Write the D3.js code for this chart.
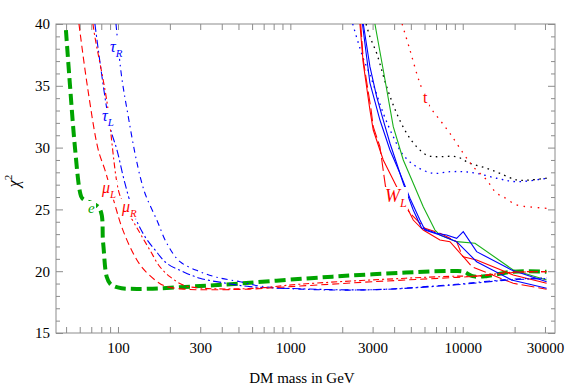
<!DOCTYPE html>
<html>
<head>
<meta charset="utf-8">
<script src="https://cdn.jsdelivr.net/npm/d3@7"></script>
<style>
  body { margin: 0; background: #fff; }
  svg { display: block; font-family: "Liberation Serif", "DejaVu Serif", serif; }
</style>
</head>
<body>
<svg id="chart" width="567" height="388"></svg>
<script>
// axis ticks
const xMajor = [100, 300, 1000, 3000, 10000, 30000];
const xMinor = [50, 60, 70, 80, 90, 200, 400, 500, 600, 700, 800, 900,
  2000, 4000, 5000, 6000, 7000, 8000, 9000, 20000];
const yMajor = [15, 20, 25, 30, 35, 40];
const yMinor = [16, 17, 18, 19, 21, 22, 23, 24, 26, 27, 28, 29, 31, 32, 33, 34, 36, 37, 38, 39];

// light channels: [DM mass (GeV), chi^2]
const eCurve = [[49.9, 39.5], [52.7, 35], [56.3, 30], [60.2, 26.4], [62, 25.9], [77.9, 25.1],
  [82, 22.3], [86, 19.55], [90, 19.0], [96, 18.75], [105, 18.62], [114, 18.58], [150, 18.58],
  [300, 18.8], [450, 18.95], [1200, 19.4], [3000, 19.75], [9200, 20.02], [10200, 19.95],
  [11400, 19.6], [13700, 19.6], [19500, 19.96], [30600, 19.96]];
const muL = [[59.4, 40], [66.4, 35], [76.9, 29.8], [84, 28.2], [96.1, 25.36], [105, 23.6],
  [120, 21.7], [137, 20.36], [164, 19.29], [187, 18.8], [240, 18.55], [300, 18.5], [580, 18.55],
  [1140, 18.8], [3030, 19.15], [9200, 19.5], [12000, 19.6], [19600, 19.9], [30600, 19.96]];
const muR = [[71.6, 40], [73.5, 38.95], [86, 33.85], [100.4, 26.6], [107.3, 25.5], [131, 23.33],
  [153, 21.72], [175, 20.36], [200, 19.56], [239, 18.88], [299, 18.64], [583, 18.6],
  [1140, 18.95], [3030, 19.3], [9200, 19.6], [12000, 19.6], [19600, 19.93], [30600, 19.96]];
const tauL = [[73.5, 40], [89.9, 31.7], [98.7, 29.8], [109.8, 27.1], [125.5, 24.4], [143.4, 22.8],
  [164, 21.72], [192, 20.64], [239, 19.96], [299, 19.43], [427, 19.02], [583, 18.75],
  [1000, 18.6], [3000, 18.5], [9200, 18.9], [19000, 19.3], [30600, 19.4]];
const tauR = [[97.4, 40], [105, 35.74], [114.3, 32.64], [125.5, 29.54], [136, 27.38],
  [145.4, 26.08], [168, 24.14], [192, 22.26], [229, 20.77], [299, 19.96], [374, 19.51],
  [510, 19.15], [666, 18.8], [1140, 18.55], [3000, 18.5], [9200, 18.95], [19000, 19.35],
  [30600, 19.45]];

// heavy channels
const greenSolid = [[3095, 40], [3459, 36.28], [3954, 31.69], [4519, 29.0], [5163, 27.11],
  [5901, 25.22], [6898, 23.33], [7373, 22.93], [9218, 22.39], [11770, 22.26], [19630, 20.1],
  [30670, 19.29]];
const blueSolid1 = [[2650, 40], [2895, 36.55], [3167, 34.12], [3459, 32.23], [3783, 30.35],
  [4137, 28.73], [4519, 27.11], [5163, 24.95], [5775, 23.5], [7055, 23.07], [8064, 22.93],
  [9218, 22.66], [10070, 23.2], [12040, 21.58], [19210, 20.1], [30670, 19.15]];
const blueSolid2 = [[2620, 40], [2895, 35.23], [3309, 32.23], [3783, 29.81], [4323, 27.92],
  [4940, 25.9], [5646, 24.14], [6036, 23.33], [7373, 22.93], [9218, 22.39], [12040, 20.77],
  [19210, 19.29], [30670, 18.62]];
const redSolid = [[2533, 40], [2648, 36.82], [2895, 33.04], [3026, 31.42], [3459, 29.0],
  [3954, 27.38], [4519, 25.76], [5163, 24.14], [5901, 23.33], [7373, 22.52], [8431, 22.39],
  [10070, 21.17], [12040, 20.91], [19630, 19.69], [30670, 19.02]];
const redLong = [[2560, 40], [2648, 37.08], [2941, 33.04], [3026, 31.69], [3309, 30.07],
  [3565, 26.84], [4423, 25.76], [4940, 24.7], [6036, 23.47], [7373, 23.07], [9218, 22.39],
  [9900, 21.31], [11300, 20.36], [19630, 19.02], [30670, 18.54]];
const blackDotted = [[2750, 40], [2895, 38.97], [3167, 37.63], [3620, 34.93], [4137, 32.78],
  [4728, 31.16], [5403, 30.07], [6175, 29.4], [7055, 29.26], [9218, 29.26], [11010, 28.73],
  [13760, 28.33], [16440, 27.92], [20540, 27.38], [24530, 27.38], [30670, 27.52]];
const blueDotted = [[2300, 40], [2648, 37.22], [2895, 35.9], [3459, 32.78], [3954, 30.88],
  [4519, 29.4], [5403, 28.45], [6744, 27.92], [8431, 28.05], [10070, 28.05], [12040, 27.92],
  [15730, 27.52], [20540, 27.24], [30670, 27.52]];
const redDotted = [[4450, 40], [4940, 37.9], [5646, 35.2], [6452, 33.31], [7373, 32.23],
  [8431, 31.16], [10070, 29.54], [11510, 28.45], [13760, 27.38], [15730, 26.3], [17180, 26.03],
  [20540, 25.36], [24530, 25.2], [30670, 25.09]];

const W = 567, H = 388;
const margin = { top: 24, right: 12, bottom: 55, left: 56 };
const frameColor = '#8c8c8c';
const green = '#00a400', red = '#ff0000', blue = '#0000ff';

const svg = d3.select('#chart');

const x = d3.scaleLog().domain([43.7, 34300]).range([margin.left, W - margin.right]);
const y = d3.scaleLinear().domain([15, 40]).range([H - margin.bottom, margin.top]);

svg.append('defs').append('clipPath').attr('id', 'plot')
  .append('rect')
  .attr('x', x.range()[0]).attr('y', y.range()[1])
  .attr('width', x.range()[1] - x.range()[0])
  .attr('height', y.range()[0] - y.range()[1]);

// axes (ticks point inward, mirrored on top and right)
function styleAxis(g) {
  g.select('.domain').remove();
  g.selectAll('line').attr('stroke', frameColor);
  g.selectAll('text').attr('font-size', 15).attr('fill', '#000')
    .attr('font-family', '"Liberation Serif", serif');
}
const bottomY = y(15), topY = y(40), leftX = x.range()[0], rightX = x.range()[1];

svg.append('g').attr('transform', `translate(0,${bottomY})`)
  .call(d3.axisBottom(x).tickValues(xMajor).tickFormat(d3.format('d')).tickSize(-6).tickPadding(9))
  .call(styleAxis);
svg.append('g').attr('transform', `translate(0,${bottomY})`)
  .call(d3.axisBottom(x).tickValues(xMinor).tickFormat('').tickSize(-6))
  .call(styleAxis);
svg.append('g').attr('transform', `translate(0,${topY})`)
  .call(d3.axisTop(x).tickValues(xMajor.concat(xMinor)).tickFormat('').tickSize(-6))
  .call(styleAxis);
svg.append('g').attr('transform', `translate(${leftX},0)`)
  .call(d3.axisLeft(y).tickValues(yMajor).tickFormat(d3.format('d')).tickSize(-7).tickPadding(6))
  .call(styleAxis);
svg.append('g').attr('transform', `translate(${leftX},0)`)
  .call(d3.axisLeft(y).tickValues(yMinor).tickFormat('').tickSize(-4))
  .call(styleAxis);
svg.append('g').attr('transform', `translate(${rightX},0)`)
  .call(d3.axisRight(y).tickValues(yMajor).tickFormat('').tickSize(-7))
  .call(styleAxis);
svg.append('g').attr('transform', `translate(${rightX},0)`)
  .call(d3.axisRight(y).tickValues(yMinor).tickFormat('').tickSize(-4))
  .call(styleAxis);

svg.append('rect')
  .attr('x', leftX).attr('y', topY)
  .attr('width', rightX - leftX).attr('height', bottomY - topY)
  .attr('fill', 'none').attr('stroke', frameColor).attr('stroke-width', 1);

// curves
const smooth = d3.line().x(d => x(d[0])).y(d => y(d[1])).curve(d3.curveCatmullRom.alpha(0.5));
const sharp = d3.line().x(d => x(d[0])).y(d => y(d[1]));

const series = [
  { data: eCurve, color: green, width: 4, dash: '11,5', line: smooth },
  { data: blackDotted, color: '#000', width: 1.3, dash: '1.6,4.4', line: smooth },
  { data: blueDotted, color: blue, width: 1.3, dash: '1.6,4.4', line: smooth },
  { data: redDotted, color: red, width: 1.3, dash: '1.6,5.5', line: smooth },
  { data: greenSolid, color: '#19b019', width: 1.1, dash: null, line: sharp },
  { data: redLong, color: red, width: 1.1, dash: '13,4', line: sharp },
  { data: redSolid, color: red, width: 1.1, dash: null, line: sharp },
  { data: blueSolid1, color: blue, width: 1.1, dash: null, line: sharp },
  { data: blueSolid2, color: blue, width: 1.1, dash: null, line: sharp },
  { data: tauR, color: blue, width: 1.1, dash: '6,4,1.5,4', line: smooth },
  { data: tauL, color: blue, width: 1.1, dash: '8,3,2,3', line: smooth },
  { data: muR, color: red, width: 1.1, dash: '6,3,2,3', line: smooth },
  { data: muL, color: red, width: 1.1, dash: '7,4', line: smooth },
];

const plot = svg.append('g').attr('clip-path', 'url(#plot)');
plot.selectAll('path.curve')
  .data(series)
  .enter()
  .append('path')
  .attr('class', 'curve')
  .attr('d', d => d.line(d.data))
  .attr('fill', 'none')
  .attr('stroke', d => d.color)
  .attr('stroke-width', d => d.width)
  .attr('stroke-dasharray', d => d.dash);

// curve labels, anchored in data coordinates, on a white patch
const labels = [
  { main: 'e', sub: '', at: [67, 24.71], color: green, size: 15, italic: true },
  { main: 'μ', sub: 'L', at: [80.8, 26.33], color: red, size: 16, italic: true },
  { main: 'μ', sub: 'R', at: [105.5, 24.79], color: red, size: 16, italic: true },
  { main: 'τ', sub: 'R', at: [89.9, 37.73], color: blue, size: 16, italic: true },
  { main: 'τ', sub: 'L', at: [80.8, 32.15], color: blue, size: 16, italic: true },
  { main: 'W', sub: 'L', at: [3538, 25.6], color: red, size: 18, italic: true },
  { main: 't', sub: '', at: [5875, 33.6], color: red, size: 16, italic: false },
];

const labelLayer = svg.append('g');
labels.forEach(l => {
  const g = labelLayer.append('g');
  const bg = g.append('rect').attr('fill', '#fff');
  const t = g.append('text')
    .attr('x', x(l.at[0]))
    .attr('y', y(l.at[1]))
    .attr('fill', l.color)
    .attr('font-size', l.size)
    .attr('font-style', l.italic ? 'italic' : 'normal');
  t.append('tspan').text(l.main);
  if (l.sub) {
    t.append('tspan').text(l.sub)
      .attr('font-size', l.size * 0.68)
      .attr('dy', l.size * 0.3);
  }
  const b = t.node().getBBox();
  bg.attr('x', b.x - 1).attr('y', b.y + 1)
    .attr('width', b.width + 2).attr('height', b.height - 1);
});

// axis titles
svg.append('text')
  .attr('x', 302)
  .attr('y', 383)
  .attr('text-anchor', 'middle')
  .attr('font-size', 15)
  .text('DM mass in GeV');

const yTitle = svg.append('text')
  .attr('transform', 'translate(19,181) rotate(-90)')
  .attr('text-anchor', 'middle')
  .attr('font-size', 16);
yTitle.append('tspan').attr('font-style', 'italic').text('χ');
yTitle.append('tspan').attr('font-size', 11).attr('dy', -7).text('2');
</script>
</body>
</html>
